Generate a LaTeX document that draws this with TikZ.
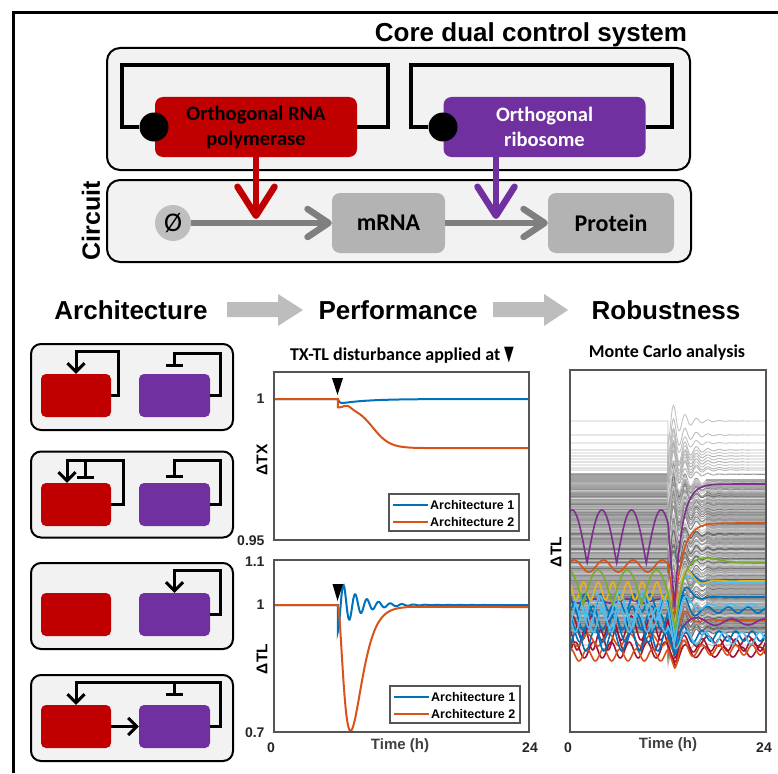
\documentclass[tikz,border=0pt]{standalone}
\usepackage{fontspec}
\usepackage{graphicx}
\setmainfont{Liberation Sans}
\newfontfamily\calibri{Carlito}
\newfontfamily\dejavu{DejaVu Sans}
\usetikzlibrary{arrows.meta}
\definecolor{rnapc}{HTML}{C00000}
\definecolor{riboc}{HTML}{7030A0}
\definecolor{panelc}{HTML}{F2F2F2}
\definecolor{speciesc}{HTML}{B3B3B3}
\definecolor{flowc}{HTML}{7F7F7F}
\definecolor{phic}{HTML}{BFBFBF}
\definecolor{blockc}{HTML}{BDBDBD}
\definecolor{axc}{HTML}{555555}
\definecolor{timec}{HTML}{404040}
\definecolor{mblue}{RGB}{0,114,189}
\definecolor{morange}{RGB}{217,83,25}
\definecolor{myellow}{RGB}{237,177,32}
\definecolor{mpurple}{RGB}{126,47,142}
\definecolor{mgreen}{RGB}{119,172,48}
\definecolor{mlblue}{RGB}{77,190,238}
\definecolor{mred}{RGB}{162,20,47}
\begin{document}
\begin{tikzpicture}[x=1pt,y=-1pt,
  panelbox/.style={draw=black,line width=2pt,fill=panelc,rounded corners=13pt,inner sep=0pt},
  archpanel/.style={panelbox,rounded corners=10pt,minimum width=202pt,minimum height=86pt},
  rnapbox/.style={fill=rnapc,rounded corners=8pt,inner sep=0pt,minimum width=202pt,minimum height=60pt,align=center,font=\calibri\bfseries\fontsize{20.5}{25}\selectfont},
  ribobox/.style={rnapbox,fill=riboc,text=white},
  specbox/.style={fill=speciesc,rounded corners=8pt,inner sep=0pt,minimum height=60pt,font=\calibri\bfseries\fontsize{24}{28}\selectfont},
  phinode/.style={circle,fill=phic,minimum size=36pt,inner sep=0pt,font=\calibri\fontsize{27}{28}\selectfont},
  blackdot/.style={circle,fill=black,minimum size=29pt,inner sep=0pt},
  loopline/.style={line width=4.5pt,draw=black},
  flowline/.style={draw=flowc,line width=6.5pt,-{Straight Barb[length=21pt,width=28pt,round]}},
  ctrlline/.style={line width=6.5pt,-{Straight Barb[length=29pt,width=37pt,round]}},
  redmini/.style={fill=rnapc,rounded corners=5pt,inner sep=0pt,minimum width=70pt,minimum height=43pt},
  purmini/.style={redmini,fill=riboc,minimum width=71pt},
  archline/.style={draw=black,line width=3pt},
  actarrow/.style={archline,-{Straight Barb[length=8.5pt,width=17pt]}},
  repbar/.style={archline,-{Bar[width=17pt]}},
  headtext/.style={font=\bfseries\fontsize{26}{30}\selectfont},
  plottitle/.style={font=\calibri\bfseries\fontsize{18}{22}\selectfont},
  axframe/.style={draw=axc,line width=1.6pt},
  ticklab/.style={font=\bfseries\fontsize{14}{16}\selectfont,text=black!85},
  axlab/.style={font=\bfseries\fontsize{15.5}{17}\selectfont},
  timelab/.style={font=\bfseries\fontsize{15}{17}\selectfont,text=timec},
  legbox/.style={draw=axc,line width=1.5pt,fill=white,minimum width=130pt,minimum height=37pt,inner sep=0pt},
  legtext/.style={font=\bfseries\fontsize{12.5}{14}\selectfont,anchor=west,inner sep=0pt},
  a1line/.style={draw=mblue,line width=2pt},
  a2line/.style={draw=morange,line width=2pt},
  mcgray/.style={line width=0.9pt},
  mcline/.style={line width=1.6pt},
]
\fill[white] (0,0) rectangle (778,773);
\path[use as bounding box] (0,0) rectangle (778,773);
\draw[line width=3.5pt] (13.5,773) -- (13.5,12.5) -- (778,12.5);

% ---------- core dual control system ----------
\node[headtext,anchor=base] (coretitle) at (531,42) {Core dual control system};
\node[panelbox,minimum width=583pt,minimum height=122pt] (core) at (398.5,109) {};
\node[panelbox,minimum width=584pt,minimum height=82pt] (circuit) at (399,221) {};
\node[rotate=90,font=\bfseries\fontsize{25}{30}\selectfont] (circlab) at (91,221) {Circuit};

\node[rnapbox] (rnap) at (256,127) {Orthogonal RNA\\polymerase};
\node[ribobox] (ribo) at (544.5,127) {Orthogonal\\ribosome};
\node[blackdot] (dot1) at (154,127) {};
\node[blackdot] (dot2) at (443,127) {};
\draw[loopline] (rnap.east) -| (388,65) -| (122,127) -- (dot1);
\draw[loopline] (ribo.east) -| (672,65) -| (411,127) -- (dot2);

\node[phinode] (phi) at (173,223) {Ø};
\node[specbox,minimum width=113pt] (mrna) at (388.5,223) {mRNA};
\node[specbox,minimum width=126pt] (prot) at (611,223) {Protein};
\draw[flowline] (phi) -- (mrna);
\draw[flowline] (mrna) -- (prot);
\coordinate (txin) at (256,219);
\coordinate (tlin) at (496,219);
\draw[ctrlline,draw=rnapc] (rnap.south) -- (txin);
\draw[ctrlline,draw=riboc] (ribo.south -| tlin) -- (tlin);

% ---------- headings ----------
\node[headtext,anchor=base] (archh) at (131,319) {Architecture};
\node[headtext,anchor=base] (perfh) at (398,319) {Performance};
\node[headtext,anchor=base] (robh) at (666,319) {Robustness};
\fill[blockc] (227,302) -- (278,302) -- (278,294) -- (303,310) -- (278,326) -- (278,317) -- (227,317) -- cycle;
\fill[blockc] (493,302) -- (544,302) -- (544,294) -- (568,310) -- (544,326) -- (544,317) -- (493,317) -- cycle;

% ---------- architectures ----------
\node[archpanel] (p1) at (132,387) {};
\node[redmini] (r1) at (76,395.5) {};
\node[purmini] (v1) at (174.5,395.5) {};
\draw[actarrow] (r1.east) -| (118,351) -| (r1.north);
\draw[repbar] (v1.east) -| (220,353) -| ([yshift=7pt]v1.north);

\node[archpanel] (p2) at (132,494.5) {};
\node[redmini] (r2) at (76,504.5) {};
\node[purmini] (v2) at (174.5,504.5) {};
\draw[actarrow] (r2.east) -| (123,460) -| ([xshift=-9pt]r2.north);
\coordinate (p2t) at (85,460);
\draw[repbar] (p2t) -- ([xshift=9pt,yshift=4pt]r2.north);
\draw[repbar] (v2.east) -| (220,460) -| ([yshift=5pt]v2.north);

\node[archpanel] (p3) at (132,606) {};
\node[redmini] (r3) at (76,614.5) {};
\node[purmini] (v3) at (174.5,614.5) {};
\draw[actarrow] (v3.east) -| (220,570) -| (v3.north);

\node[archpanel] (p4) at (132,718) {};
\node[redmini] (r4) at (76,726.5) {};
\node[purmini] (v4) at (174.5,726.5) {};
\draw[actarrow] (v4.east) -| (220,682) -| (r4.north);
\coordinate (p4t) at (174.5,682);
\draw[repbar] (p4t) -- ([yshift=9pt]v4.north);
\draw[actarrow] (r4) -- (v4);

% ---------- performance plots ----------
\node[plottitle] (perftitle) at (402,355) {TX-TL disturbance applied at {\dejavu\scalebox{0.7}[1.15]{▼}}};
% top plot
\draw[a1line] (274,399) -- (337.75,399) -- plot[domain=6:24,samples=120] ({274+\x*10.625},{399+5*(1-exp(max(-(\x-6)/0.15,-12)))*exp(-(\x-6)/2.5)});
\draw[a2line] (274,399) -- (337.75,399) -- plot[domain=6:24,samples=150] ({274+\x*10.625},{448.1-41.2/(1+exp(min((\x-9.3)/0.8,9)))-3*exp(max(-(\x-6.9)*(\x-6.9)/0.25,-12))});
\draw[axframe] (274,372) rectangle (529,540);
\fill (332,378) -- (343,378) -- (337.5,395) -- cycle;
\node[ticklab,anchor=east] (ty1) at (268,399) {1};
\node[ticklab,anchor=east] (ty2) at (268,541) {0.95};
\node[axlab,rotate=90] (tylab) at (262,460) {ΔTX};
\node[legbox] (leg1) at (454,512.5) {};
\draw[a1line] (393,505) -- (428,505);
\node[legtext] (leg1a) at (430,505) {Architecture 1};
\draw[a2line] (393,522) -- (428,522);
\node[legtext] (leg1b) at (430,522) {Architecture 2};
% bottom plot
\draw[a1line] (274,605) -- (337.75,605) -- plot[domain=6:24,samples=260] ({274+\x*10.625},{605+27.1*exp(-(\x-6)/1.8)*cos(327.27*(\x-6))});
\draw[a2line] (274,605) -- (337.75,605) -- plot[domain=6:24,samples=200] ({274+\x*10.625},{605+1.7*(1-exp(max(-(\x-6),-12)))+exp(max(2-2*(\x-6)/1.2,-14))*((\x-6)/1.2)*((\x-6)/1.2)*124.7});
\draw[axframe] (274,560) rectangle (529,732);
\fill (332.5,584) -- (343,584) -- (337.5,601) -- cycle;
\node[ticklab,anchor=east] (by1) at (268,562) {1.1};
\node[ticklab,anchor=east] (by2) at (268,605) {1};
\node[ticklab,anchor=east] (by3) at (268,733) {0.7};
\node[axlab,rotate=90] (bylab) at (262,659) {ΔTL};
\node[ticklab] (bx0) at (271,748) {0};
\node[ticklab] (bx24) at (530,748) {24};
\node[timelab] (btime) at (400,746) {Time (h)};
\node[legbox] (leg2) at (455,704.5) {};
\draw[a1line] (394,697) -- (429,697);
\node[legtext] (leg2a) at (431,697) {Architecture 1};
\draw[a2line] (394,714) -- (429,714);
\node[legtext] (leg2b) at (431,714) {Architecture 2};

% ---------- Monte Carlo ----------
\node[plottitle] (mctitle) at (667,353) {Monte Carlo analysis};
\begin{scope}
\clip (570,370) rectangle (766,732);
\fill[black!36] (570,473) rectangle (668,633);
\fill[black!34] (706,479) rectangle (766,632);
\pgfmathsetseed{42}
\foreach \lv/\gg in {421/24,435/26,443/24,450/28,453/22,456/30,459/26,462/32,465/24,468/30,470/28} {
  \pgfmathsetmacro\dd{22+8*rnd}
  \draw[mcgray,color=black!\gg] (570,\lv) -- (668,\lv) -- plot[domain=12:24,samples=110] ({570+\x*8.1667},{\lv+\dd*exp(-(\x-12)/1.6)*cos(257.14*(\x-12))});
}
\foreach \i in {1,...,150} {
  \pgfmathsetmacro\lv{473+160*rnd}
  \pgfmathsetmacro\dd{18+14*rnd}
  \pgfmathtruncatemacro\gg{16+46*rnd}
  \draw[mcgray,color=black!\gg] (570,\lv) -- (668,\lv) -- plot[domain=12:24,samples=100] ({570+\x*8.1667},{\lv+\dd*exp(-(\x-12)/1.6)*cos(257.14*(\x-12))});
}
\draw[mcgray,color=black!30] (570,645) -- (668,645) -- plot[domain=12:24,samples=100] ({570+\x*8.1667},{645+20*exp(-(\x-12)/1.6)*cos(257.14*(\x-12))});
\foreach \cc/\lv/\am/\pe/\ph/\mn/\fv/\ta/\tp/\bb/\pb in {
  mred/640/10/1.9/0.4/662/645/1.5/2.0/6/2.0,
  mred/650/8/2.2/1.2/665/652/1.5/2.2/5/2.2,
  mred/628/12/2.4/0.9/658/641/1.5/2.4/5/2.4,
  morange/655/6/2.0/0.6/668/650/1.5/2.0/5/2.0,
  morange/640/6/2.6/0.2/655/620/1.0/3/0/2,
  mpurple/601/2/4/0/640/622/1.2/5/3/4,
  mblue/640/11/2.2/1.4/655/636/1.5/2.0/5/2.0,
  mblue/628/14/2.8/0.5/650/610/1.2/2.4/3/2.4,
  mblue/618/12/2.4/1.0/645/597/1.0/3.5/0/2,
  mblue/603/9/2.0/0.3/640/580/1.0/4/0/2,
  mlblue/612/16/2.6/1.7/648/638/1.5/2.2/6/2.2,
  mlblue/620/12/2.2/0.1/642/606/1.0/3/2/2.5,
  mlblue/606/14/3.0/0.8/635/583/0.9/4/0/2,
  myellow/591/9/1.8/0.3/625/581/1.2/3.6/0/2,
  morange/566/6/3.6/1.4/610/523/1.0/100/0/2} {
  \draw[mcline,color=\cc] plot[domain=0:12,samples=100] ({570+\x*8.1667},{\lv+\am*sin(360*(\x-\ph)/\pe)}) -- plot[domain=12.8:24,samples=100] ({570+\x*8.1667},{\fv+(\mn-\fv)*exp(-(\x-12.8)/\ta)*cos(360*(\x-12.8)/\tp)+\bb*sin(360*(\x-12.8)/\pb)});
}
\draw[mcline,color=mgreen] plot[domain=0:12,samples=150] ({570+\x*8.1667},{605-35*abs(sin(50*(\x-1.6)))}) -- plot[domain=12.9:24,samples=80] ({570+\x*8.1667},{563+69*exp(-(\x-12.9)/0.8)-6*exp(max(-(\x-15.9)*(\x-15.9)/9,-12))});
\draw[mcline,color=mpurple] plot[domain=0:12,samples=150] ({570+\x*8.1667},{563-53*abs(sin(49.587*(\x-2.08)))}) -- plot[domain=12.8:24,samples=80] ({570+\x*8.1667},{484+123*exp(-(\x-12.8)/0.9)});
\end{scope}
\draw[axframe] (570,370) rectangle (766,732);
\node[ticklab] (mx0) at (568,748) {0};
\node[ticklab] (mx24) at (764,748) {24};
\node[timelab] (mtime) at (668,745) {Time (h)};
\node[axlab,rotate=90] (mylab) at (556,552) {ΔTL};
\end{tikzpicture}
\end{document}
